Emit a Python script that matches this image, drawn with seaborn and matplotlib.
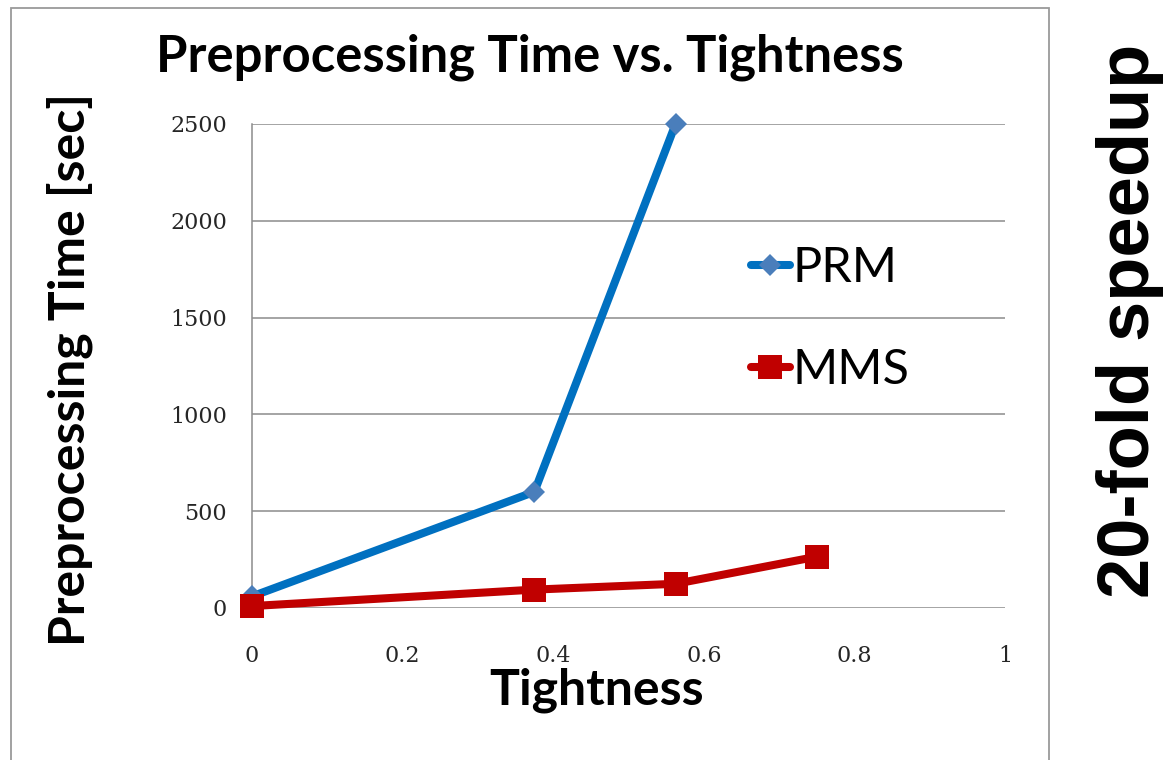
import matplotlib
matplotlib.use("Agg")
import matplotlib.pyplot as plt
from matplotlib.patches import Rectangle
import numpy as np
import pandas as pd
import seaborn as sns

# Series data
prm_tightness = [0.0, 0.375, 0.5625]
prm_time = [60, 600, 2500]
mms_tightness = [0.0, 0.375, 0.5625, 0.75]
mms_time = [10, 95, 125, 265]

x_ticks = [0, 0.2, 0.4, 0.6, 0.8, 1]
x_tick_labels = ["0", "0.2", "0.4", "0.6", "0.8", "1"]
y_ticks = [0, 500, 1000, 1500, 2000, 2500]
y_tick_labels = ["0", "500", "1000", "1500", "2000", "2500"]

sns.set_theme(style="white")
plt.rcParams["font.family"] = ["Lato", "DejaVu Sans"]

W, H = 1172, 760
fig = plt.figure(figsize=(W / 100, H / 100), dpi=100)
fig.patch.set_facecolor("white")

# outer chart frame
fig.patches.append(Rectangle((11 / W, -0.02), (1049 - 11) / W, 1 - 8 / H + 0.02,
                             transform=fig.transFigure, fill=False,
                             edgecolor="#9a9a9a", linewidth=1.3, zorder=0))

ax = fig.add_axes([252 / W, 1 - 608 / H, (1005 - 252) / W, (608 - 124) / H])

prm = pd.DataFrame({"Tightness": prm_tightness, "Time": prm_time})
mms = pd.DataFrame({"Tightness": mms_tightness, "Time": mms_time})

sns.lineplot(data=prm, x="Tightness", y="Time", ax=ax, color="#0070C0",
             linewidth=5.8, marker="D", markersize=11.5,
             markerfacecolor="#4A7EBB", markeredgewidth=0, label="PRM",
             clip_on=False, zorder=3)
sns.lineplot(data=mms, x="Tightness", y="Time", ax=ax, color="#C00000",
             linewidth=5.8, marker="s", markersize=17,
             markerfacecolor="#C00000", markeredgewidth=0, label="MMS",
             clip_on=False, zorder=4)

ax.set_xlim(0, 1)
ax.set_ylim(0, 2500)
ax.set_xticks(x_ticks)
ax.set_xticklabels(x_tick_labels)
ax.set_yticks(y_ticks)
ax.set_yticklabels(y_tick_labels)
ax.tick_params(axis="both", length=0, labelsize=16, colors="#262626")
ax.tick_params(axis="y", pad=18)
ax.tick_params(axis="x", pad=27)
for lbl in ax.get_xticklabels() + ax.get_yticklabels():
    lbl.set_family(["DejaVu Serif"])

ax.grid(axis="y", color="#8c8c8c", linewidth=1.1)
ax.grid(axis="x", visible=False)
for side in ["top", "right", "bottom"]:
    ax.spines[side].set_visible(False)
ax.spines["left"].set_color("#8c8c8c")
ax.spines["left"].set_linewidth(1.1)
ax.set_axisbelow(True)

ax.set_xlabel("Tightness", fontsize=36, fontweight="bold", color="black")
ax.xaxis.label.set_verticalalignment("center")
ax.xaxis.set_label_coords((597 - 252) / 753, (608 - 690) / 484)
ax.set_ylabel("Preprocessing Time [sec]", fontsize=36, fontweight="bold",
              color="black")
ax.yaxis.label.set_verticalalignment("center")
ax.yaxis.set_label_coords((70 - 252) / 753, (608 - 370) / 484)

fig.text(530 / W, 1 - 57 / H, "Preprocessing Time vs. Tightness",
         fontsize=36.5, fontweight="bold", color="black",
         ha="center", va="center")

leg = ax.legend(loc="center left", bbox_to_anchor=(751 / W, 1 - 319 / H),
                bbox_transform=fig.transFigure, frameon=False,
                fontsize=35, handlelength=0.8, handletextpad=0.05,
                labelspacing=1.18, borderpad=0, borderaxespad=0)
for t in leg.get_texts():
    t.set_color("black")

fig.text(1130 / W, 1 - 321 / H, "20-fold speedup", rotation=90,
         fontsize=52, fontweight="bold", family=["Liberation Sans", "DejaVu Sans"],
         color="black", ha="center", va="center")

fig.savefig("out.png", dpi=100, facecolor="white")
